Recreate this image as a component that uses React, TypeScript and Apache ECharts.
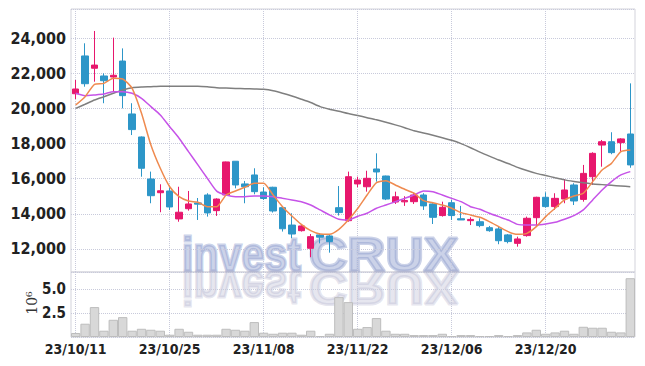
import { useEffect, useRef } from "react";
import * as echarts from "echarts";

const dates = [
  "23/10/11", "23/10/12", "23/10/13", "23/10/16", "23/10/17", "23/10/18", "23/10/19", "23/10/20", "23/10/23", "23/10/24",
  "23/10/25", "23/10/26", "23/10/27", "23/10/30", "23/10/31", "23/11/01", "23/11/02", "23/11/03", "23/11/06", "23/11/07",
  "23/11/08", "23/11/09", "23/11/10", "23/11/13", "23/11/14", "23/11/15", "23/11/16", "23/11/17", "23/11/20", "23/11/21",
  "23/11/22", "23/11/23", "23/11/24", "23/11/27", "23/11/28", "23/11/29", "23/11/30", "23/12/01", "23/12/04", "23/12/05",
  "23/12/06", "23/12/07", "23/12/08", "23/12/11", "23/12/12", "23/12/13", "23/12/14", "23/12/15", "23/12/18", "23/12/19",
  "23/12/20", "23/12/21", "23/12/22", "23/12/26", "23/12/27", "23/12/28", "24/01/02", "24/01/03", "24/01/04", "24/01/05",
];

const opens = [
  20830, 22980, 22280, 21840, 21780, 22690, 19680, 18370, 15980, 15200,
  15300, 13710, 14290, 14620, 15070, 14180, 15070, 16990, 15700, 16210,
  15240, 15510, 14350, 13360, 13040, 12040, 12800, 12740, 14350, 13610,
  15700, 15540, 16550, 16150, 14670, 14680, 14690, 15070, 14560, 13900,
  14630, 13720, 13610, 13550, 13210, 13140, 12800, 12320, 12760, 13780,
  14940, 14410, 14840, 15640, 14820, 16110, 17910, 18100, 18050, 18540,
];
const closes = [
  21100, 21400, 22460, 21570, 21880, 20720, 18790, 16590, 15030, 15310,
  14390, 14090, 14560, 14550, 14050, 14840, 16950, 15640, 15540, 15260,
  14870, 14160, 13150, 12850, 13310, 12700, 12670, 12420, 14070, 16110,
  15920, 16020, 16380, 14840, 14970, 14760, 15070, 14450, 13800, 14370,
  13900, 13650, 13680, 13330, 13040, 12470, 12420, 12570, 13745, 14940,
  14410, 14880, 15355, 14730, 16300, 17440, 18100, 17480, 18260, 16780,
];
const lows = [
  20530, 21230, 21515, 20290, 20950, 20000, 18480, 16110, 14600, 14090,
  14220, 13550, 14180, 13650, 13840, 13880, 15050, 15450, 14600, 15110,
  14790, 14070, 12990, 12610, 12990, 11530, 12320, 11790, 13900, 13550,
  15510, 15260, 15830, 14780, 14560, 14450, 14560, 14220, 13420, 13840,
  13650, 13650, 13360, 13235, 12980, 12270, 12320, 12130, 12700, 13270,
  14350, 14220, 14600, 14500, 14690, 15640, 16680, 17390, 17530, 16620,
];
const highs = [
  21610, 23700, 24400, 21990, 24020, 23410, 20290, 18400, 16400, 15680,
  15510, 15540, 15300, 14900, 15170, 14880, 16970, 16990, 15870, 16590,
  15510, 15540, 14400, 14030, 13370, 12850, 12890, 12850, 15580, 16400,
  16110, 16450, 17440, 16170, 15260, 15000, 15200, 15170, 14600, 14690,
  14790, 14450, 13800, 13745, 13310, 13270, 12850, 12700, 13840, 14970,
  15225, 15170, 15980, 15740, 16780, 17500, 18200, 18640, 18300, 21420,
];

const ma5 = [
  20190, 20660, 21365, 21420, 21710, 21670, 21140, 19720, 17915, 16590,
  15540, 14975, 14730, 14655, 14405, 14400, 15070, 15300, 15510, 15735,
  15735, 15070, 14405, 13875, 13400, 13040, 12850, 12835, 13120, 13650,
  14300, 15070, 15770, 15885, 15640, 15395, 15170, 14750, 14635, 14500,
  14315, 14065, 13935, 13800, 13555, 13270, 12985, 12835, 12890, 13270,
  13840, 14315, 14790, 15015, 15170, 15830, 16490, 16870, 17535, 17630,
];
const ma10 = [
  20855, 20720, 20760, 20815, 20950, 20950, 20855, 20570, 20095, 19620,
  18955, 18300, 17535, 16780, 16020, 15290, 15070, 14975, 14975, 15015,
  15015, 14975, 14880, 14790, 14690, 14500, 14220, 13935, 13690, 13650,
  13860, 14030, 14315, 14500, 14690, 14880, 15070, 15300, 15260, 15070,
  14880, 14690, 14405, 14260, 14030, 13840, 13650, 13400, 13365, 13365,
  13420, 13515, 13690, 13895, 14220, 14790, 15355, 15830, 16210, 16400,
];
const ma60 = [
  20000, 20230, 20475, 20660, 20855, 21040, 21175, 21215, 21230, 21250,
  21250, 21250, 21250, 21260, 21230, 21175, 21150, 21130, 21120, 21100,
  21080, 21000, 20860, 20700, 20520, 20330, 20095, 19950, 19830, 19700,
  19590, 19470, 19350, 19210, 19060, 18900, 18720, 18600, 18470, 18330,
  18180, 17990, 17760, 17510, 17280, 17060, 16860, 16640, 16460, 16300,
  16180, 16050, 15930, 15840, 15760, 15700, 15660, 15620, 15580, 15540,
];

// volume in millions (10^6)
const volumes = [
  0.42, 1.39, 3.13, 0.66, 1.8, 2.08, 0.66, 0.86, 0.76, 0.66,
  0.24, 0.86, 0.55, 0.24, 0.24, 0.24, 0.86, 0.76, 0.66, 1.56,
  0.45, 0.34, 0.45, 0.45, 0.24, 0.66, 0.1, 0.34, 4.17, 3.65,
  0.86, 1.04, 1.98, 0.66, 0.34, 0.34, 0.2, 0.2, 0.2, 0.34,
  0.1, 0.2, 0.2, 0.1, 0.1, 0.2, 0.1, 0.2, 0.48, 0.76,
  0.34, 0.48, 0.66, 0.34, 1.07, 0.97, 0.97, 0.55, 0.48, 6.15,
];

const priceTicks = [12000, 14000, 16000, 18000, 20000, 22000, 24000];
const volumeTicks = [2.5, 5];

const UP = "#e7176d";
const DOWN = "#2d96c8";
const LABEL_FONT = "'DejaVu Sans Condensed', 'Liberation Sans Narrow', sans-serif";
const GRID_LINE = "#c8cadb";

export default function App() {
  const ref = useRef<HTMLDivElement>(null);

  useEffect(() => {
    const chart = echarts.init(ref.current!, null, { renderer: "svg" });
    const candleData = dates.map((_, i) => [opens[i], closes[i], lows[i], highs[i]]);

    const wmBase = 271;
    const wmOffset = -16.8;

    const wmTexts = (color: string, opacity: number, y: number) => [
      {
        type: "text",
        x: 182,
        y,
        scaleX: 0.84,
        style: {
          text: "invest",
          fontFamily: "'Liberation Sans', Arial, sans-serif",
          fontWeight: "bold",
          fontSize: 49,
          fill: color,
          stroke: color,
          lineWidth: 3,
          lineJoin: "round",
          opacity,
          verticalAlign: "middle",
        },
      },
      {
        type: "text",
        x: 309,
        y,
        scaleX: 1.08,
        style: {
          text: "CRUX",
          fontFamily: "'Liberation Sans', Arial, sans-serif",
          fontWeight: "bold",
          fontSize: 49,
          fill: color,
          stroke: color,
          lineWidth: 3,
          lineJoin: "round",
          opacity,
          verticalAlign: "middle",
        },
      },
    ];

    chart.setOption({
      animation: false,
      backgroundColor: "#ffffff",
      grid: [
        { left: 71, right: 10, top: 9, height: 263, show: true, borderColor: "#d3d3db", borderWidth: 1 },
        { left: 71, right: 10, top: 272, height: 65, show: true, borderColor: "#d3d3db", borderWidth: 1 },
      ],
      xAxis: [
        {
          type: "category",
          gridIndex: 0,
          data: dates,
          boundaryGap: true,
          axisLine: { show: false },
          axisTick: { show: false },
          axisLabel: { show: false },
          splitLine: { show: true, interval: 9, alignWithLabel: true, lineStyle: { type: "dotted", color: GRID_LINE } },
        },
        {
          type: "category",
          gridIndex: 1,
          data: dates,
          boundaryGap: true,
          axisLine: { show: false },
          axisTick: { show: false },
          axisLabel: {
            interval: 9,
            color: "#222",
            fontSize: 14,
            fontWeight: "bold",
            fontFamily: LABEL_FONT,
            margin: 5,
          },
          splitLine: { show: true, interval: 9, alignWithLabel: true, lineStyle: { type: "dotted", color: GRID_LINE } },
        },
      ],
      yAxis: [
        {
          type: "value",
          gridIndex: 0,
          min: 10690,
          max: 25650,
          splitNumber: 7,
          axisLine: { show: false },
          axisTick: { show: false },
          axisLabel: {
            color: "#222",
            fontSize: 16,
            fontWeight: "bold",
            fontFamily: LABEL_FONT,
            margin: 5,
            formatter: (v: number) => (priceTicks.includes(v) ? v.toLocaleString("en-US") : ""),
          },
          splitLine: { show: true, lineStyle: { type: "dotted", color: GRID_LINE } },
        },
        {
          type: "value",
          gridIndex: 1,
          min: 0,
          max: 6.8,
          interval: 2.5,
          axisLine: { show: false },
          axisTick: { show: false },
          axisLabel: {
            color: "#222",
            fontSize: 15,
            fontWeight: "bold",
            fontFamily: LABEL_FONT,
            margin: 5,
            formatter: (v: number) => (volumeTicks.includes(v) ? v.toFixed(1) : ""),
          },
          splitLine: { show: true, lineStyle: { type: "dotted", color: GRID_LINE } },
        },
      ],
      series: [
        {
          type: "candlestick",
          xAxisIndex: 0,
          yAxisIndex: 0,
          data: candleData,
          barWidth: 7,
          itemStyle: { color: UP, color0: DOWN, borderColor: UP, borderColor0: DOWN, borderWidth: 1 },
        },
        {
          type: "line",
          xAxisIndex: 0,
          yAxisIndex: 0,
          data: ma60,
          showSymbol: false,
          smooth: 0.2,
          lineStyle: { color: "#7f7f7f", width: 1.5 },
        },
        {
          type: "line",
          xAxisIndex: 0,
          yAxisIndex: 0,
          data: ma10,
          showSymbol: false,
          smooth: 0.2,
          lineStyle: { color: "#c653e8", width: 1.5 },
        },
        {
          type: "line",
          xAxisIndex: 0,
          yAxisIndex: 0,
          data: ma5,
          showSymbol: false,
          smooth: 0.2,
          lineStyle: { color: "#ef8a4f", width: 1.5 },
        },
        {
          type: "bar",
          xAxisIndex: 1,
          yAxisIndex: 1,
          data: volumes,
          barWidth: "100%",
          itemStyle: { color: "#d8d8d8", borderColor: "#bdbdbd", borderWidth: 1 },
        },
      ],
      graphic: [
        {
          type: "text",
          x: 32,
          y: 303,
          rotation: Math.PI / 2,
          silent: true,
          style: {
            text: "10⁶",
            fontFamily: "'DejaVu Serif', serif",
            fontSize: 14,
            fill: "#333",
            align: "center",
            verticalAlign: "middle",
          },
        },
        {
          type: "group",
          x: 0,
          y: 0,
          z: 100,
          silent: true,
          children: wmTexts("#8c9bcd", 0.45, wmBase + wmOffset),
        },
        {
          type: "group",
          x: 0,
          y: wmBase,
          scaleY: -1,
          z: 100,
          silent: true,
          children: wmTexts("#b0b2cc", 0.32, wmOffset),
        },
      ],
    });

    return () => chart.dispose();
  }, []);

  return (
    <div
      ref={ref}
      style={{ position: "fixed", left: 0, top: 0, width: 645, height: 366 }}
    />
  );
}
